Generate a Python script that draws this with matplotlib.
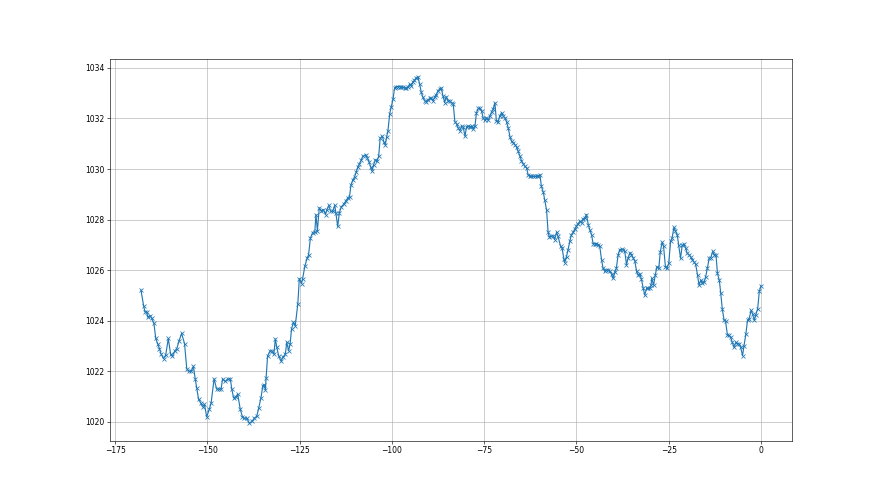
import matplotlib
matplotlib.use("Agg")
import matplotlib.pyplot as plt

# hours relative to now
hours = [
    -168.0, -167.3, -166.9, -166.4, -166.2, -165.5, -165.1, -164.5, -164.0, -163.5,
    -163.0, -162.6, -161.9, -161.3, -160.6, -160.0, -159.5, -158.9, -158.3, -157.7,
    -157.0, -156.2, -155.6, -155.0, -154.4, -153.8, -153.3, -152.9, -152.4, -151.8,
    -151.3, -150.8, -150.2, -149.5, -149.0, -148.2, -147.5, -146.8, -146.3, -145.9,
    -145.2, -144.5, -143.8, -143.4, -142.9, -142.3, -141.8, -141.1, -140.5, -140.0,
    -139.36, -138.64, -137.9, -137.3, -136.65, -136.1, -135.5, -135.0, -134.6, -134.3,
    -134.1, -133.7, -133.0, -132.5, -132.0, -131.6, -131.2, -130.7, -130.06, -129.6,
    -128.9, -128.5, -128.0, -127.6, -127.2, -126.7, -126.2, -125.5, -125.1, -124.5,
    -124.2, -123.6, -123.0, -122.6, -122.1, -121.5, -120.9, -120.6, -120.2, -119.7,
    -119.1, -118.6, -118.0, -117.6, -117.1, -116.6, -116.06, -115.5, -115.2, -114.7,
    -114.25, -113.73, -113.1, -112.55, -111.9, -111.5, -111.1, -110.6, -110.1, -109.7,
    -109.2, -108.8, -108.3, -107.9, -107.1, -106.7, -106.2, -105.8, -105.4, -104.97,
    -104.5, -104.1, -103.6, -103.2, -102.6, -102.2, -101.8, -101.45, -101.1, -100.6,
    -100.2, -99.7, -99.3, -98.8, -98.4, -97.9, -97.5, -97.0, -96.6, -96.1,
    -95.7, -95.2, -94.8, -94.3, -93.9, -93.4, -92.95, -92.5, -92.05, -91.6,
    -91.15, -90.7, -90.2, -89.8, -89.3, -88.9, -88.4, -88.0, -87.5, -87.1,
    -86.6, -86.2, -85.7, -85.3, -84.8, -84.3, -83.85, -83.4, -82.95, -82.5,
    -82.05, -81.6, -81.1, -80.7, -80.2, -79.8, -79.3, -78.9, -78.4, -78.0,
    -77.5, -77.1, -76.6, -76.2, -75.7, -75.3, -74.8, -74.4, -73.9, -73.5,
    -73.0, -72.6, -72.1, -71.7, -71.2, -70.8, -70.3, -69.85, -69.4, -68.95,
    -68.5, -68.0, -67.6, -67.1, -66.7, -66.2, -65.8, -65.3, -64.9, -64.4,
    -64.0, -63.5, -63.1, -62.6, -62.2, -61.7, -61.3, -60.8, -60.4, -59.9,
    -59.5, -59.0, -58.6, -58.1, -57.7, -57.4, -56.8, -56.3, -55.9, -55.4,
    -55.0, -54.3, -53.9, -53.4, -53.2, -52.7, -52.3, -51.8, -51.4, -50.9,
    -50.45, -50.0, -49.55, -49.1, -48.6, -48.2, -47.7, -47.3, -46.8, -46.4,
    -45.9, -45.5, -45.0, -44.6, -44.1, -43.7, -43.2, -42.8, -42.3, -41.9,
    -41.4, -40.97, -40.5, -40.1, -39.6, -39.2, -38.7, -38.3, -37.8, -37.35,
    -36.9, -36.45, -36.0, -35.5, -35.1, -34.6, -34.2, -33.7, -33.3, -32.8,
    -32.4, -31.9, -31.5, -31.0, -30.6, -30.1, -29.8, -29.6, -29.1, -28.65,
    -28.2, -27.7, -27.3, -26.8, -26.4, -25.9, -25.5, -25.0, -24.5, -24.1,
    -23.6, -23.2, -22.7, -22.3, -21.8, -21.35, -20.9, -20.4, -20.0, -19.5,
    -19.1, -18.6, -18.2, -17.7, -17.2, -16.8, -16.3, -15.9, -15.4, -15.0,
    -14.5, -14.05, -13.6, -13.1, -12.7, -12.2, -11.8, -11.3, -10.9, -10.5,
    -10.0, -9.6, -9.1, -8.7, -8.2, -7.8, -7.3, -6.8, -6.4, -5.9,
    -5.5, -5.0, -4.6, -4.1, -3.65, -3.2, -2.7, -2.3, -1.8, -1.4,
    -0.9, -0.45, 0.0,
]

# pressure (hPa)
pressure = [
    1025.21, 1024.6, 1024.35, 1024.35, 1024.15, 1024.2, 1024.1, 1023.9, 1023.3, 1023.1,
    1022.9, 1022.7, 1022.5, 1022.65, 1023.3, 1022.7, 1022.6, 1022.8, 1022.9, 1023.2,
    1023.5, 1023.1, 1022.1, 1022.0, 1022.0, 1022.2, 1021.7, 1021.35, 1020.9, 1020.75,
    1020.6, 1020.7, 1020.2, 1020.5, 1020.75, 1021.7, 1021.3, 1021.3, 1021.3, 1021.7,
    1021.6, 1021.7, 1021.7, 1021.3, 1020.95, 1021.0, 1021.1, 1020.5, 1020.2, 1020.15,
    1020.15, 1019.95, 1020.02, 1020.15, 1020.22, 1020.55, 1020.95, 1021.42, 1021.48, 1021.28,
    1021.75, 1022.61, 1022.81, 1022.81, 1022.68, 1023.28, 1022.95, 1022.61, 1022.41, 1022.55,
    1022.68, 1023.15, 1022.81, 1023.08, 1023.68, 1023.94, 1023.81, 1024.68, 1025.67, 1025.47,
    1025.67, 1026.16, 1026.47, 1026.6, 1027.27, 1027.49, 1027.53, 1028.2, 1027.57, 1028.47,
    1028.33, 1028.4, 1028.2, 1028.4, 1028.56, 1028.33, 1028.33, 1028.56, 1028.27, 1027.73,
    1028.27, 1028.51, 1028.6, 1028.73, 1028.87, 1028.91, 1029.37, 1029.57, 1029.7, 1029.88,
    1030.1, 1030.2, 1030.37, 1030.5, 1030.57, 1030.44, 1030.28, 1030.1, 1029.93, 1030.17,
    1030.37, 1030.3, 1030.5, 1031.21, 1031.3, 1031.07, 1030.97, 1031.26, 1031.5, 1032.19,
    1032.46, 1032.76, 1033.2, 1033.26, 1033.26, 1033.26, 1033.23, 1033.23, 1033.2, 1033.2,
    1033.23, 1033.36, 1033.3, 1033.43, 1033.52, 1033.6, 1033.65, 1033.36, 1033.03, 1032.83,
    1032.7, 1032.67, 1032.72, 1032.8, 1032.8, 1032.7, 1032.86, 1032.94, 1033.1, 1033.16,
    1033.2, 1032.9, 1032.63, 1032.86, 1032.7, 1032.69, 1032.62, 1032.58, 1031.87, 1031.79,
    1031.63, 1031.52, 1031.7, 1031.66, 1031.3, 1031.66, 1031.7, 1031.66, 1031.7, 1031.6,
    1031.7, 1032.23, 1032.4, 1032.4, 1032.29, 1032.03, 1031.92, 1032.03, 1031.92, 1032.09,
    1032.26, 1032.36, 1032.62, 1031.89, 1031.87, 1032.09, 1032.23, 1032.09, 1032.03, 1031.87,
    1031.63, 1031.26, 1031.1, 1031.03, 1030.97, 1030.86, 1030.7, 1030.5, 1030.33, 1030.2,
    1030.11, 1030.04, 1029.77, 1029.71, 1029.71, 1029.71, 1029.71, 1029.71, 1029.71, 1029.77,
    1029.31, 1029.09, 1028.78, 1028.38, 1027.52, 1027.32, 1027.34, 1027.36, 1027.21, 1027.5,
    1027.34, 1026.94, 1026.87, 1026.44, 1026.3, 1026.54, 1026.81, 1027.14, 1027.4, 1027.5,
    1027.63, 1027.74, 1027.84, 1027.93, 1027.87, 1028.03, 1028.07, 1028.2, 1027.8, 1027.6,
    1027.4, 1027.05, 1027.05, 1027.05, 1027.01, 1026.94, 1026.41, 1026.08, 1025.95, 1026.01,
    1026.01, 1025.95, 1025.85, 1025.68, 1025.91, 1026.08, 1026.61, 1026.81, 1026.83, 1026.81,
    1026.74, 1026.21, 1026.48, 1026.7, 1026.61, 1026.48, 1026.37, 1025.95, 1025.81, 1025.85,
    1025.64, 1025.28, 1025.02, 1025.28, 1025.28, 1025.28, 1025.41, 1025.68, 1025.41, 1025.81,
    1026.14, 1026.07, 1026.71, 1027.11, 1026.94, 1026.14, 1026.07, 1026.27, 1027.14, 1027.27,
    1027.69, 1027.56, 1027.4, 1027.0, 1026.47, 1026.98, 1027.03, 1026.87, 1026.67, 1026.61,
    1026.54, 1026.41, 1026.34, 1026.23, 1025.81, 1025.41, 1025.61, 1025.48, 1025.54, 1025.74,
    1026.1, 1026.47, 1026.5, 1026.74, 1026.61, 1026.61, 1025.87, 1025.61, 1025.08, 1024.48,
    1024.02, 1023.98, 1023.44, 1023.42, 1023.35, 1023.15, 1022.95, 1023.15, 1023.09, 1023.09,
    1022.95, 1022.62, 1023.02, 1023.48, 1024.02, 1024.08, 1024.41, 1024.28, 1024.02, 1024.24,
    1024.48, 1025.17, 1025.38,
]

fig, ax = plt.subplots(figsize=(16, 9), dpi=55)
ax.plot(hours, pressure, marker="x", color="#1f77b4", linewidth=1.5)
ax.grid(True)
fig.savefig("out.png", dpi=55)
